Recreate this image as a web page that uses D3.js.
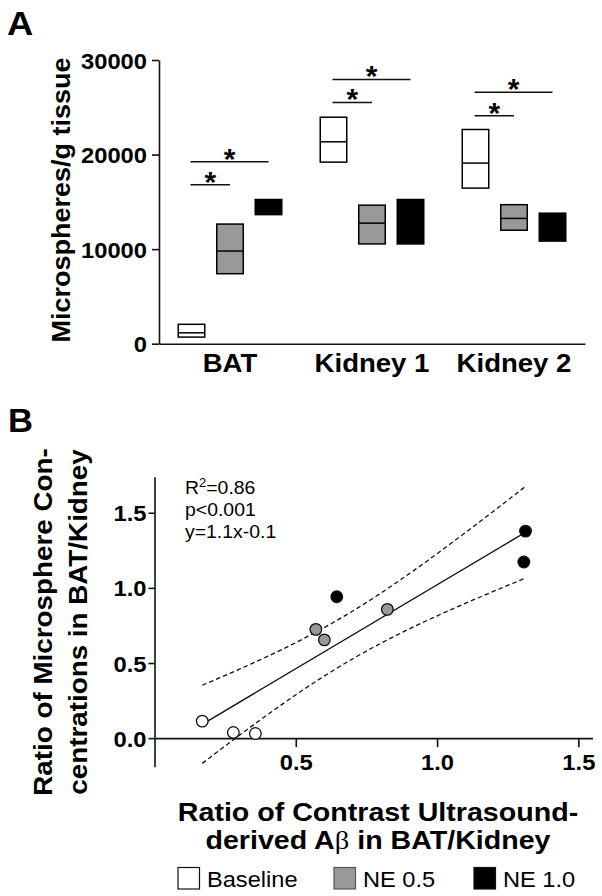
<!DOCTYPE html>
<html><head><meta charset="utf-8">
<script src="https://cdn.jsdelivr.net/npm/d3@7"></script>
<style>
body{margin:0;background:#fff}
svg{display:block}
text{font-family:"Liberation Sans",Arial,Helvetica,sans-serif;fill:#000}
</style>
</head><body>
<svg id="chart" width="602" height="896"></svg>
<script>
// ---------- Panel A data ----------
const categories = ["BAT", "Kidney 1", "Kidney 2"];
const groups = ["Baseline", "NE 0.5", "NE 1.0"];
// floating boxes: min / median / max per category (rows) and group (columns)
const boxMin    = [[700, 7400, 13650], [19200, 10550, 10550], [16450, 12000, 10850]];
const boxMedian = [[1150, 9800, 14450], [21350, 12750, 12900], [19100, 13250, 12300]];
const boxMax    = [[2050, 12650, 15250], [23950, 14650, 15250], [22650, 14700, 13800]];
// significance bars: Baseline vs NE 0.5 (short) and Baseline vs NE 1.0 (long)
const sigShort = [16800, 25500, 24100];
const sigLong  = [19250, 27950, 26600];
const yTicksA = [0, 10000, 20000, 30000];

// ---------- Panel B data ----------
const ratioUS = [0.169, 0.279, 0.357, 0.571, 0.601, 0.824, 0.645, 1.307, 1.313];
const ratioMS = [0.113, 0.038, 0.031, 0.724, 0.654, 0.857, 0.941, 1.172, 1.378];
const pointGroup = ["Baseline", "Baseline", "Baseline", "NE 0.5", "NE 0.5", "NE 0.5", "NE 1.0", "NE 1.0", "NE 1.0"];
const statsLines = ["R|2|=0.86", "p<0.001", "y=1.1x-0.1"];
const yTicksB = [0, 0.5, 1.0, 1.5];
const xTicksB = [0.5, 1.0, 1.5];
const tCrit = 2.3646; // t(0.975, df=7)

const fillOf = {"Baseline": "#ffffff", "NE 0.5": "#999999", "NE 1.0": "#000000"};
const svg = d3.select("#chart");

function txt(g, x, y, str, o = {}) {
  const t = g.append("text")
    .attr("transform", `translate(${x},${y})` + (o.rot ? ` rotate(${o.rot})` : "") + ` scale(${o.sx || 1},1)`)
    .attr("text-anchor", o.anchor || "start")
    .style("font-size", (o.size || 16) + "px")
    .style("font-weight", o.weight || "normal")
    .text(str);
  return t;
}

// ================= PANEL A =================
const gA = svg.append("g");
txt(gA, 7, 35, "A", {size: 33, weight: "bold", sx: 1.1});

const xA = d3.scaleBand().domain(categories).range([159, 585]).padding(0);
const xIn = d3.scalePoint().domain(groups).range([-38.5, 38.5]);
const yA = d3.scaleLinear().domain([0, 30000]).range([343.7, 60]);
const boxW = 26.5;
const cx = (ci, gi) => xA(categories[ci]) + xA.bandwidth() / 2 + xIn(groups[gi]);

// y axis
const yAxA = gA.append("g").attr("transform", "translate(159,0)")
  .call(d3.axisLeft(yA).tickValues(yTicksA).tickSize(7).tickSizeOuter(0).tickFormat(d3.format("d")));
yAxA.select(".domain").attr("stroke", "#111").attr("stroke-width", 1.6);
yAxA.selectAll(".tick line").attr("stroke", "#111").attr("stroke-width", 1.6);
yAxA.selectAll(".tick text")
  .attr("x", 0).attr("dy", 0)
  .attr("transform", "translate(-12,8) scale(1.08,1)")
  .style("font-size", "22px").style("font-weight", "bold").attr("fill", "#000");

// x axis
const xAxA = gA.append("g").attr("transform", `translate(0,${yA(0)})`)
  .call(d3.axisBottom(xA).tickSize(0).tickSizeOuter(0));
xAxA.select(".domain").attr("stroke", "#111").attr("stroke-width", 1.6);
xAxA.selectAll(".tick text")
  .attr("y", 0).attr("dy", 0)
  .attr("transform", "translate(0,28) scale(1.06,1)")
  .style("font-size", "26px").style("font-weight", "bold").attr("fill", "#000");

// y title
txt(gA, 70, 200, "Microspheres/g tissue", {size: 25, weight: "bold", rot: -90, anchor: "middle", sx: 1.08});

// boxes
categories.forEach((c, ci) => {
  groups.forEach((gname, gi) => {
    const x0 = cx(ci, gi) - boxW / 2;
    gA.append("rect")
      .attr("x", x0).attr("y", yA(boxMax[ci][gi]))
      .attr("width", boxW).attr("height", yA(boxMin[ci][gi]) - yA(boxMax[ci][gi]))
      .attr("fill", fillOf[gname]).attr("stroke", "#000").attr("stroke-width", 1.5);
    gA.append("line")
      .attr("x1", x0).attr("x2", x0 + boxW)
      .attr("y1", yA(boxMedian[ci][gi])).attr("y2", yA(boxMedian[ci][gi]))
      .attr("stroke", "#000").attr("stroke-width", 1.5);
  });
  // significance bars
  [[sigShort[ci], 1], [sigLong[ci], 2]].forEach(([v, gi]) => {
    const xa = cx(ci, 0) - 1, xb = cx(ci, gi);
    gA.append("line").attr("x1", xa).attr("x2", xb).attr("y1", yA(v)).attr("y2", yA(v))
      .attr("stroke", "#111").attr("stroke-width", 1.5);
    txt(gA, (xa + xb) / 2, yA(v) - 10.5 + 0.58 * 30, "*", {size: 30, weight: "bold", anchor: "middle"});
  });
});

// ================= PANEL B =================
const gB = svg.append("g");
txt(gB, 8, 431.7, "B", {size: 33, weight: "bold", sx: 1.05});

const xB = d3.scaleLinear().domain([0, 1.55]).range([154.5, 592.5]);
const yB = d3.scaleLinear().domain([-0.19, 1.74]).range([766.7, 476.7]);

const yAxB = gB.append("g").attr("transform", "translate(154.5,0)")
  .call(d3.axisLeft(yB).tickValues(yTicksB).tickSize(6).tickSizeOuter(0).tickFormat(d3.format(".1f")));
yAxB.select(".domain").attr("stroke", "#111").attr("stroke-width", 1.6);
yAxB.selectAll(".tick line").attr("stroke", "#111").attr("stroke-width", 1.6);
yAxB.selectAll(".tick text")
  .attr("x", 0).attr("dy", 0)
  .attr("transform", "translate(-8,8) scale(1.08,1)")
  .style("font-size", "22px").style("font-weight", "bold").attr("fill", "#000");

const xAxB = gB.append("g").attr("transform", `translate(0,${yB(0)})`)
  .call(d3.axisBottom(xB).tickValues(xTicksB).tickSize(9).tickSizeOuter(0).tickFormat(d3.format(".1f")));
xAxB.select(".domain").attr("stroke", "#111").attr("stroke-width", 1.6);
xAxB.selectAll(".tick line").attr("stroke", "#111").attr("stroke-width", 1.6);
xAxB.selectAll(".tick text")
  .attr("y", 0).attr("dy", 0)
  .attr("transform", "translate(0,32) scale(1.08,1)")
  .style("font-size", "22px").style("font-weight", "bold").attr("fill", "#000");

// regression + 95% confidence band
const n = ratioUS.length;
const mx = d3.mean(ratioUS), my = d3.mean(ratioMS);
const sxx = d3.sum(ratioUS, v => (v - mx) ** 2);
const sxy = d3.sum(ratioUS.map((v, i) => (v - mx) * (ratioMS[i] - my)));
const slope = sxy / sxx, icpt = my - slope * mx;
const sse = d3.sum(ratioUS.map((v, i) => (ratioMS[i] - (icpt + slope * v)) ** 2));
const s = Math.sqrt(sse / (n - 2));
const [xmin, xmax] = d3.extent(ratioUS);
const xs = d3.range(0, 41).map(k => xmin + (xmax - xmin) * k / 40);
const band = sign => xs.map(v => [v, icpt + slope * v + sign * tCrit * s * Math.sqrt(1 / n + (v - mx) ** 2 / sxx)]);
const lineGen = d3.line().x(d => xB(d[0])).y(d => yB(d[1]));

[1, -1].forEach(sg => {
  gB.append("path").attr("d", lineGen(band(sg)))
    .attr("fill", "none").attr("stroke", "#111").attr("stroke-width", 1.3).attr("stroke-dasharray", "4.5,3");
});
gB.append("path").attr("d", lineGen([[xmin, icpt + slope * xmin], [xmax, icpt + slope * xmax]]))
  .attr("fill", "none").attr("stroke", "#111").attr("stroke-width", 1.4);

// points
gB.selectAll("circle.pt").data(ratioUS.map((v, i) => ({x: v, y: ratioMS[i], g: pointGroup[i]})))
  .join("circle").attr("class", "pt")
  .attr("cx", d => xB(d.x)).attr("cy", d => yB(d.y)).attr("r", 5.8)
  .attr("fill", d => fillOf[d.g]).attr("stroke", "#111").attr("stroke-width", 1.3);

// stats text
statsLines.forEach((line, i) => {
  const t = gB.append("text")
    .attr("transform", `translate(185,${494 + i * 22.2}) scale(1.08,1)`)
    .style("font-size", "18px");
  const parts = line.split("|");
  if (parts.length === 3) {
    t.append("tspan").text(parts[0]);
    t.append("tspan").attr("dy", -7).style("font-size", "12px").text(parts[1]);
    t.append("tspan").attr("dy", 7).text(parts[2]);
  } else {
    t.text(line);
  }
});

// y title (two lines)
txt(gB, 52, 622, "Ratio of Microsphere Con-", {size: 26, weight: "bold", rot: -90, anchor: "middle", sx: 1.07});
txt(gB, 87, 622, "centrations in BAT/Kidney", {size: 26, weight: "bold", rot: -90, anchor: "middle", sx: 1.07});

// x title (two lines)
txt(gB, 378, 821, "Ratio of Contrast Ultrasound-", {size: 26, weight: "bold", anchor: "middle", sx: 1.1});
const t2 = gB.append("text").attr("transform", "translate(378,849) scale(1.1,1)")
  .attr("text-anchor", "middle").style("font-size", "26px").style("font-weight", "bold");
t2.append("tspan").text("derived A");
t2.append("tspan").style("font-family", "'Liberation Serif','Times New Roman',serif").style("font-weight", "normal").text("β");
t2.append("tspan").text(" in BAT/Kidney");

// legend
const legX = [178, 334, 474];
groups.forEach((gname, i) => {
  gB.append("rect").attr("x", legX[i]).attr("y", 867.5).attr("width", 21.5).attr("height", 21.5)
    .attr("fill", fillOf[gname]).attr("stroke", gname === "NE 0.5" ? "#555" : "#111").attr("stroke-width", 1.2);
  txt(gB, legX[i] + 29, 886.5, gname, {size: 22.5, sx: 1.05});
});
</script>
</body></html>
